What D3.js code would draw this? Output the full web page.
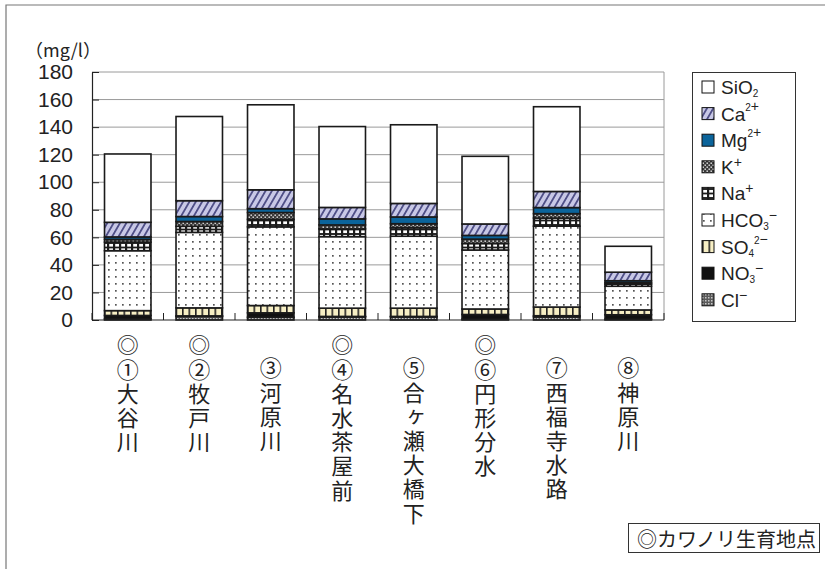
<!DOCTYPE html>
<html>
<head>
<meta charset="utf-8">
<script src="https://cdn.jsdelivr.net/npm/d3@7"></script>
<style>
  html, body { margin: 0; padding: 0; background: #fff; }
  svg { display: block; }
  .vlabel { writing-mode: vertical-rl; text-orientation: upright; }
</style>
</head>
<body>
<svg id="chart" width="825" height="569"></svg>
<script>
// Sites (number, name) and whether カワノリ grows there
const siteNumbers = ["①", "②", "③", "④", "⑤", "⑥", "⑦", "⑧"];
const siteNames = ["大谷川", "牧戸川", "河原川", "名水茶屋前", "合ヶ瀬大橋下", "円形分水", "西福寺水路", "神原川"];
const habitat = [true, true, false, true, false, true, false, false];

// Ion / silica concentrations (mg/l), listed from the bottom of each stack upward
const cl   = [0.8, 2.6, 2.0, 2.3, 2.3, 0.6, 2.3, 0.6];
const no3  = [2.5, 0.4, 3.2, 0.3, 0.3, 3.4, 0.8, 3.2];
const so4  = [3.5, 5.8, 5.3, 6.0, 6.0, 4.0, 6.3, 3.5];
const hco3 = [43.5, 54.8, 57.1, 51.9, 52.2, 42.8, 58.7, 17.2];
const na   = [6.2, 4.4, 5.4, 5.6, 6.1, 4.7, 5.9, 1.5];
const k    = [2.0, 3.5, 5.0, 2.9, 3.0, 3.2, 3.2, 1.0];
const mg   = [1.8, 3.6, 2.8, 4.4, 4.9, 2.7, 4.4, 1.5];
const ca   = [10.6, 11.5, 13.7, 8.3, 9.8, 8.3, 11.7, 6.2];
const sio2 = [49.6, 61.1, 61.7, 58.7, 57.1, 49.1, 61.5, 18.8];

const yTicks = [0, 20, 40, 60, 80, 100, 120, 140, 160, 180];
const unitLabel = "（mg/l）";
const noteLabel = "◎カワノリ生育地点";
const habitatMark = "◎";

const seriesKeys = ["cl", "no3", "so4", "hco3", "na", "k", "mg", "ca", "sio2"];
const seriesData = { cl, no3, so4, hco3, na, k, mg, ca, sio2 };

// Legend labels: base text, optional subscript and superscript
const legendSpec = {
  sio2: { base: "SiO", sub: "2" },
  ca:   { base: "Ca", sup: ["2", "+"] },
  mg:   { base: "Mg", sup: ["2", "+"] },
  k:    { base: "K", sup: ["", "+"] },
  na:   { base: "Na", sup: ["", "+"] },
  hco3: { base: "HCO", sub: "3", sup: ["", "−"] },
  so4:  { base: "SO", sub: "4", sup: ["2", "−"] },
  no3:  { base: "NO", sub: "3", sup: ["", "−"] },
  cl:   { base: "Cl", sup: ["", "−"] }
};
const legendOrder = ["sio2", "ca", "mg", "k", "na", "hco3", "so4", "no3", "cl"];

const rows = siteNames.map((name, i) => {
  const r = { i };
  seriesKeys.forEach(key => r[key] = seriesData[key][i]);
  return r;
});

const svg = d3.select("#chart");
const defs = svg.append("defs");

// ---- fill patterns ----
function pattern(id, w, h, build, transform) {
  const p = defs.append("pattern")
    .attr("id", id).attr("patternUnits", "userSpaceOnUse")
    .attr("width", w).attr("height", h);
  if (transform) p.attr("patternTransform", transform);
  build(p);
}
pattern("p-hco3", 7, 7, p => {
  p.append("rect").attr("width", 7).attr("height", 7).attr("fill", "#fff");
  p.append("rect").attr("x", 3).attr("y", 3).attr("width", 1.7).attr("height", 1.7).attr("fill", "#555");
});
pattern("p-so4", 6.5, 10, p => {
  p.append("rect").attr("width", 6.5).attr("height", 10).attr("fill", "#f7efc4");
  p.append("rect").attr("x", 0).attr("width", 1.6).attr("height", 10).attr("fill", "#222");
});
pattern("p-na", 6, 4.5, p => {
  p.append("rect").attr("width", 6).attr("height", 4.5).attr("fill", "#1c1c1c");
  p.append("rect").attr("x", 1.2).attr("y", 0.9).attr("width", 3.8).attr("height", 2.7).attr("fill", "#fff");
});
pattern("p-k", 4, 4, p => {
  p.append("rect").attr("width", 4).attr("height", 4).attr("fill", "#3a3a3a");
  p.append("rect").attr("x", 0.5).attr("y", 0.5).attr("width", 1.4).attr("height", 1.4).attr("fill", "#eee");
  p.append("rect").attr("x", 2.5).attr("y", 2.5).attr("width", 1.4).attr("height", 1.4).attr("fill", "#eee");
});
pattern("p-cl", 3, 3, p => {
  p.append("rect").attr("width", 3).attr("height", 3).attr("fill", "#5a5a5a");
  p.append("rect").attr("width", 1.5).attr("height", 1.5).attr("fill", "#c8c8c8");
});
pattern("p-ca", 5.5, 5.5, p => {
  p.append("rect").attr("width", 5.5).attr("height", 5.5).attr("fill", "#c8c8e6");
  p.append("rect").attr("width", 1.8).attr("height", 5.5).attr("fill", "#4e4e86");
}, "rotate(30)");

const fills = {
  sio2: "#ffffff",
  ca: "url(#p-ca)",
  mg: "#0b649b",
  k: "url(#p-k)",
  na: "url(#p-na)",
  hco3: "url(#p-hco3)",
  so4: "url(#p-so4)",
  no3: "#111111",
  cl: "url(#p-cl)"
};

// ---- outer frame ----
svg.append("path")
  .attr("d", "M6,569 V5 H825")
  .attr("fill", "none").attr("stroke", "#777").attr("stroke-width", 1.2);

// ---- scales ----
const plot = { left: 92, right: 664, top: 72, bottom: 320 };
const x = d3.scaleBand().domain(d3.range(siteNames.length))
  .range([plot.left, plot.right]).paddingInner(0.35).paddingOuter(0.175);
const y = d3.scaleLinear().domain([0, 180]).range([plot.bottom, plot.top]);

// gridlines
svg.append("g").selectAll("line")
  .data(yTicks.filter(t => t > 0))
  .join("line")
  .attr("x1", plot.left).attr("x2", plot.right)
  .attr("y1", d => y(d)).attr("y2", d => y(d))
  .attr("stroke", "#9a9a9a").attr("stroke-width", 1);

// right edge of plot area
svg.append("line")
  .attr("x1", plot.right).attr("x2", plot.right)
  .attr("y1", plot.top).attr("y2", plot.bottom)
  .attr("stroke", "#9a9a9a").attr("stroke-width", 1);

// ---- stacked bars ----
const stack = d3.stack().keys(seriesKeys)(rows);
const barLayer = svg.append("g");
stack.forEach(layer => {
  barLayer.append("g").selectAll("rect")
    .data(layer)
    .join("rect")
    .attr("x", d => x(d.data.i))
    .attr("width", x.bandwidth())
    .attr("y", d => y(d[1]))
    .attr("height", d => y(d[0]) - y(d[1]))
    .attr("fill", fills[layer.key])
    .attr("stroke", "#1a1a1a")
    .attr("stroke-width", 1.6);
});

// ---- y axis (inner ticks) ----
const yAxis = d3.axisLeft(y).tickValues(yTicks).tickSizeInner(-7).tickSizeOuter(0).tickPadding(19);
const yg = svg.append("g").attr("transform", `translate(${plot.left},0)`).call(yAxis);
yg.select(".domain").attr("stroke", "#222").attr("stroke-width", 1.2);
yg.selectAll(".tick line").attr("stroke", "#222");
yg.selectAll("text")
  .attr("font-family", "'Liberation Sans', Arial, sans-serif")
  .attr("font-size", 21).attr("fill", "#222");

// ---- x baseline with category separators ----
svg.append("line")
  .attr("x1", plot.left).attr("x2", plot.right)
  .attr("y1", plot.bottom).attr("y2", plot.bottom)
  .attr("stroke", "#222").attr("stroke-width", 1.2);
const boundaries = d3.range(siteNames.length + 1).map(i => plot.left + i * x.step());
svg.append("g").selectAll("line")
  .data(boundaries)
  .join("line")
  .attr("x1", d => d).attr("x2", d => d)
  .attr("y1", plot.bottom).attr("y2", plot.bottom - 7)
  .attr("stroke", "#222");

// ---- category labels written vertically ----
const cjk = "'Noto Sans CJK JP', 'Noto Sans CJK SC', sans-serif";
const labelSize = 22;
const labelGap = 2.2;
const labelLayer = svg.append("g")
  .attr("font-family", cjk).attr("font-size", labelSize).attr("fill", "#222");
siteNames.forEach((name, i) => {
  const cx = x(i) + x.bandwidth() / 2;
  const text = (habitat[i] ? habitatMark : "") + siteNumbers[i] + name;
  const firstCenter = habitat[i] ? 345 : 368;
  labelLayer.append("text")
    .attr("class", "vlabel")
    .attr("x", cx)
    .attr("y", firstCenter - labelSize / 2)
    .attr("letter-spacing", labelGap)
    .text(text);
});

// ---- unit label ----
svg.append("text")
  .attr("x", 25).attr("y", 49)
  .attr("dominant-baseline", "central")
  .attr("font-family", cjk).attr("font-size", 18).attr("fill", "#222")
  .text(unitLabel);

// ---- legend ----
const legend = svg.append("g");
legend.append("rect")
  .attr("x", 692.5).attr("y", 72.5).attr("width", 103).attr("height", 249)
  .attr("fill", "#fff").attr("stroke", "#333").attr("stroke-width", 1);
legendOrder.forEach((key, i) => {
  const cy = 87 + i * 26.6;
  legend.append("rect")
    .attr("x", 702).attr("y", cy - 6).attr("width", 12).attr("height", 12)
    .attr("fill", fills[key]).attr("stroke", "#111").attr("stroke-width", 1);
  const spec = legendSpec[key];
  const t = legend.append("text")
    .attr("x", 721).attr("y", cy + 7)
    .attr("font-family", "'Liberation Sans', Arial, sans-serif")
    .attr("font-size", 19).attr("fill", "#222");
  t.append("tspan").text(spec.base);
  let shift = 0;
  if (spec.sub) {
    t.append("tspan").attr("font-size", 10).attr("dy", 3).text(spec.sub);
    shift = 3;
  }
  if (spec.sup) {
    if (spec.sup[0]) {
      t.append("tspan").attr("font-size", 10).attr("dy", -10 - shift).text(spec.sup[0]);
      t.append("tspan").attr("font-size", 14).attr("dy", 0).text(spec.sup[1]);
    } else {
      t.append("tspan").attr("font-size", 14).attr("dy", -7 - shift).text(spec.sup[1]);
    }
  }
});

// ---- note box ----
svg.append("rect")
  .attr("x", 628.5).attr("y", 523.5).attr("width", 191).attr("height", 29)
  .attr("fill", "#fff").attr("stroke", "#333").attr("stroke-width", 1);
svg.append("text")
  .attr("x", 637).attr("y", 538.5)
  .attr("dominant-baseline", "central")
  .attr("font-family", cjk).attr("font-size", 20).attr("fill", "#222")
  .text(noteLabel);
</script>
</body>
</html>
